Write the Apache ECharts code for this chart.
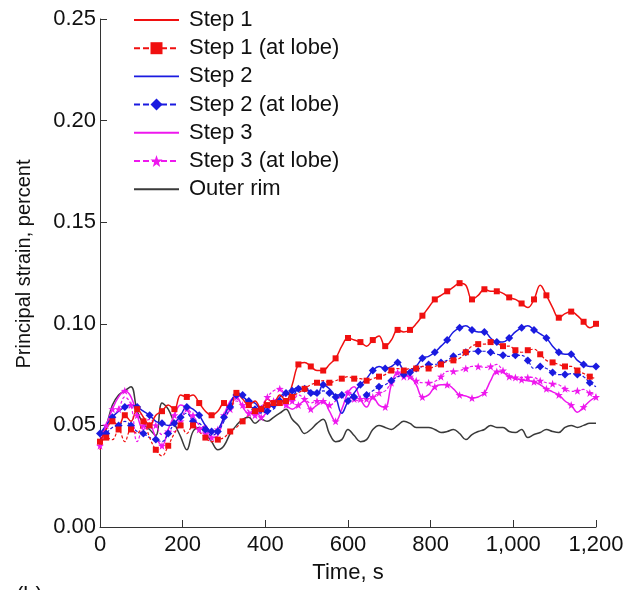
<!DOCTYPE html>
<html>
<head>
<meta charset="utf-8">
<script src="https://cdn.jsdelivr.net/npm/echarts@6/dist/echarts.min.js"></script>
<style>
html,body{margin:0;padding:0;background:#fff;}
#c{width:635px;height:590px;}
</style>
</head>
<body>
<div id="c"></div>
<script>
// time axis (s), 15-s sampling
const timeStart = 0, timeStep = 15, nPoints = 81;
const xTicks = [0, 200, 400, 600, 800, 1000, 1200];
const yTicks = [0, 0.05, 0.10, 0.15, 0.20, 0.25];

const step1 = [0.042,0.048,0.052,0.050,0.055,0.052,0.058,0.054,0.050,0.055,0.057,0.060,0.058,0.065,0.064,0.065,0.061,0.057,0.055,0.057,0.061,0.058,0.066,0.063,0.060,0.062,0.058,0.063,0.061,0.065,0.062,0.070,0.080,0.081,0.079,0.077,0.077,0.080,0.083,0.089,0.093,0.092,0.091,0.089,0.092,0.094,0.089,0.092,0.097,0.096,0.097,0.100,0.104,0.108,0.112,0.114,0.116,0.118,0.120,0.119,0.112,0.114,0.117,0.116,0.116,0.115,0.113,0.112,0.110,0.108,0.112,0.119,0.114,0.108,0.103,0.105,0.106,0.104,0.101,0.098,0.100];
const step1Lobe = [0.038,0.044,0.043,0.048,0.042,0.048,0.046,0.052,0.044,0.038,0.035,0.040,0.046,0.050,0.046,0.050,0.047,0.044,0.042,0.043,0.044,0.047,0.049,0.052,0.055,0.057,0.059,0.060,0.060,0.061,0.061,0.064,0.066,0.068,0.070,0.071,0.072,0.071,0.072,0.073,0.074,0.073,0.073,0.072,0.073,0.074,0.075,0.077,0.078,0.077,0.078,0.078,0.079,0.078,0.079,0.080,0.0815,0.082,0.083,0.086,0.089,0.090,0.090,0.091,0.0905,0.089,0.089,0.087,0.086,0.087,0.0875,0.085,0.082,0.081,0.080,0.079,0.079,0.077,0.0755,0.074,0.073];
const step2 = [0.046,0.050,0.054,0.057,0.059,0.060,0.059,0.057,0.055,0.052,0.051,0.050,0.051,0.055,0.059,0.058,0.055,0.050,0.047,0.048,0.054,0.061,0.065,0.064,0.062,0.061,0.058,0.059,0.060,0.064,0.066,0.064,0.068,0.068,0.066,0.065,0.070,0.068,0.064,0.056,0.062,0.066,0.070,0.073,0.077,0.079,0.078,0.079,0.081,0.077,0.076,0.079,0.083,0.084,0.086,0.089,0.092,0.096,0.098,0.099,0.097,0.096,0.096,0.093,0.091,0.091,0.093,0.096,0.098,0.099,0.097,0.095,0.093,0.089,0.086,0.085,0.085,0.082,0.080,0.079,0.079];
const step2Lobe = [0.043,0.046,0.049,0.050,0.052,0.050,0.047,0.046,0.044,0.043,0.042,0.046,0.051,0.054,0.056,0.052,0.051,0.048,0.045,0.047,0.052,0.059,0.066,0.065,0.060,0.058,0.056,0.057,0.058,0.062,0.066,0.067,0.069,0.068,0.067,0.066,0.067,0.066,0.065,0.065,0.066,0.064,0.063,0.065,0.067,0.069,0.070,0.072,0.074,0.075,0.077,0.078,0.079,0.080,0.080,0.081,0.082,0.084,0.085,0.086,0.0865,0.0865,0.0865,0.086,0.085,0.0845,0.084,0.0845,0.0845,0.082,0.078,0.079,0.078,0.076,0.075,0.075,0.0755,0.075,0.074,0.071,0.069];
const step3 = [0.040,0.050,0.058,0.064,0.067,0.064,0.055,0.048,0.050,0.044,0.040,0.048,0.055,0.060,0.058,0.052,0.048,0.050,0.044,0.045,0.055,0.062,0.064,0.059,0.056,0.058,0.054,0.057,0.062,0.063,0.060,0.058,0.060,0.062,0.058,0.060,0.062,0.057,0.052,0.058,0.066,0.069,0.063,0.059,0.064,0.060,0.059,0.070,0.076,0.075,0.074,0.070,0.064,0.065,0.069,0.070,0.070,0.068,0.065,0.0645,0.0635,0.064,0.066,0.072,0.0765,0.076,0.074,0.073,0.0725,0.072,0.0715,0.070,0.068,0.0665,0.065,0.062,0.060,0.0565,0.059,0.062,0.064];
const step3Lobe = [0.044,0.050,0.054,0.058,0.064,0.060,0.042,0.050,0.053,0.050,0.0455,0.047,0.047,0.052,0.058,0.055,0.050,0.046,0.044,0.048,0.053,0.058,0.062,0.060,0.057,0.055,0.059,0.064,0.067,0.068,0.064,0.062,0.065,0.063,0.061,0.062,0.061,0.060,0.062,0.065,0.067,0.063,0.062,0.063,0.064,0.066,0.067,0.071,0.074,0.074,0.074,0.072,0.071,0.071,0.0716,0.074,0.0766,0.0766,0.077,0.078,0.079,0.079,0.0786,0.079,0.080,0.077,0.075,0.0736,0.0736,0.0736,0.0736,0.072,0.071,0.0705,0.070,0.068,0.0667,0.067,0.0677,0.066,0.065];
const outerRim = [0.045,0.050,0.060,0.065,0.067,0.069,0.057,0.051,0.048,0.045,0.061,0.058,0.051,0.0445,0.038,0.047,0.049,0.046,0.042,0.038,0.040,0.046,0.050,0.053,0.054,0.051,0.053,0.052,0.054,0.056,0.058,0.053,0.050,0.046,0.048,0.051,0.053,0.046,0.042,0.043,0.048,0.045,0.042,0.043,0.048,0.050,0.049,0.048,0.050,0.052,0.051,0.049,0.049,0.049,0.048,0.0465,0.047,0.048,0.046,0.043,0.0455,0.047,0.048,0.050,0.049,0.049,0.047,0.0465,0.048,0.044,0.0455,0.0465,0.048,0.047,0.0465,0.049,0.050,0.049,0.050,0.051,0.051];

const seriesNames = ['Step 1','Step 1 (at lobe)','Step 2','Step 2 (at lobe)','Step 3','Step 3 (at lobe)','Outer rim'];
const xAxisTitle = 'Time, s';
const yAxisTitle = 'Principal strain, percent';

const times = [];
for (let i = 0; i < nPoints; i++) times.push(timeStart + i * timeStep);
const pair = arr => arr.map((v, i) => [times[i], v]);

const RED = '#f01010', BLUE = '#1a1ae0', MAG = '#ee18ee', GREY = '#3a3a3a';
const STAR = 'path://M0,-10 L2.35,-3.24 L9.51,-3.09 L3.8,1.24 L5.88,8.09 L0,4 L-5.88,8.09 L-3.8,1.24 L-9.51,-3.09 L-2.35,-3.24 Z';
const LINEICON = 'path://M0,0 L48,0 L48,2 L0,2 Z';
const FONT = 'Liberation Sans';

function mk(name, data, color, solid, symbol, parity, size) {
  return {
    name: name, type: 'line', data: pair(data), smooth: 0.4,
    showAllSymbol: true,
    symbol: symbol || 'none',
    symbolSize: symbol ? (v, p) => (p.dataIndex % 2 === parity ? size : 0) : 0,
    lineStyle: solid ? {color: color, width: 1.5} : {color: color, width: 1.2, type: [3, 2]},
    itemStyle: {color: color},
    emphasis: {disabled: true},
    animation: false
  };
}

const chart = echarts.init(document.getElementById('c'));
chart.setOption({
  animation: false,
  grid: {left: 100, right: 39, top: 19, bottom: 63},
  legend: {
    orient: 'vertical', left: 133, top: 9, padding: 0,
    itemWidth: 45, itemHeight: 15, itemGap: 6.2,
    lineStyle: {type: [6, 3], width: 2},
    textStyle: {fontFamily: FONT, fontSize: 22, color: '#111', lineHeight: 22, padding: [0, 0, 0, 5]},
    data: [
      {name: seriesNames[0], icon: LINEICON},
      {name: seriesNames[1]},
      {name: seriesNames[2], icon: LINEICON},
      {name: seriesNames[3]},
      {name: seriesNames[4], icon: LINEICON},
      {name: seriesNames[5]},
      {name: seriesNames[6], icon: LINEICON}
    ],
    selectedMode: false
  },
  xAxis: {
    type: 'value', min: xTicks[0], max: xTicks[xTicks.length - 1], interval: 200,
    name: xAxisTitle, nameLocation: 'middle', nameGap: 35,
    nameTextStyle: {fontFamily: FONT, fontSize: 22, color: '#111'},
    axisLine: {lineStyle: {color: '#333', width: 1}},
    axisTick: {inside: true, length: 7, lineStyle: {color: '#333'}},
    splitLine: {show: false},
    axisLabel: {fontFamily: FONT, fontSize: 22, color: '#111', margin: 7,
      formatter: v => v.toLocaleString('en-US')}
  },
  yAxis: {
    type: 'value', min: yTicks[0], max: yTicks[yTicks.length - 1], interval: 0.05,
    axisLine: {show: true, lineStyle: {color: '#333', width: 1}},
    axisTick: {show: true, inside: true, length: 7, lineStyle: {color: '#333'}},
    splitLine: {show: false},
    axisLabel: {fontFamily: FONT, fontSize: 22, color: '#111', margin: 4,
      formatter: v => v.toFixed(2)}
  },
  graphic: [
    {type: 'text', x: 24, y: 264, rotation: Math.PI / 2,
      style: {text: yAxisTitle, font: '20px "Liberation Sans"', fill: '#111',
        align: 'center', verticalAlign: 'middle'}},
    {type: 'text', left: 16, top: 585,
      style: {text: '(b)', font: '22px "Liberation Sans"', fill: '#111'}}
  ],
  series: [
    mk(seriesNames[6], outerRim, GREY, true, null, 0, 0),
    mk(seriesNames[5], step3Lobe, MAG, false, STAR, 1, 8),
    mk(seriesNames[4], step3, MAG, true, STAR, 0, 8),
    mk(seriesNames[3], step2Lobe, BLUE, false, 'diamond', 1, 8),
    mk(seriesNames[2], step2, BLUE, true, 'diamond', 0, 8),
    mk(seriesNames[1], step1Lobe, RED, false, 'rect', 1, 6),
    mk(seriesNames[0], step1, RED, true, 'rect', 0, 6)
  ]
});
</script>
</body>
</html>
